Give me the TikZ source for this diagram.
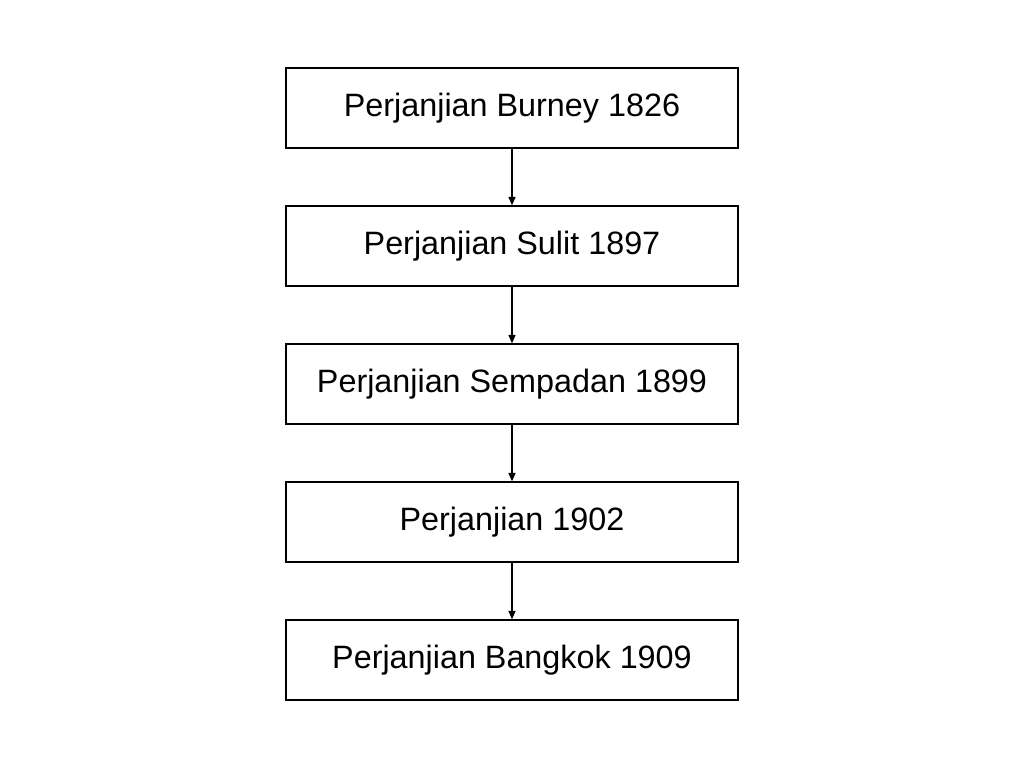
\documentclass[tikz,border=0pt]{standalone}
\usepackage{fontspec}
\setmainfont{Liberation Sans}
\usetikzlibrary{positioning,arrows.meta}

\begin{document}
\begin{tikzpicture}[
    node distance=1.418cm,
    treaty/.style={rectangle, draw, line width=0.9pt, minimum width=11.3cm, minimum height=2cm, text centered, font=\fontsize{23}{27}\selectfont},
    arrow/.style={line width=0.9pt, -{Triangle[length=6pt,width=5pt]}}
]
    \useasboundingbox (0,0) rectangle (25.6,19.2);

    % Nodes
    \node[treaty] (burney) at (12.8,16.5) {Perjanjian Burney 1826};
    \node[treaty, below=of burney] (sulit) {Perjanjian Sulit 1897};
    \node[treaty, below=of sulit] (sempadan) {Perjanjian Sempadan 1899};
    \node[treaty, below=of sempadan] (p1902) {Perjanjian 1902};
    \node[treaty, below=of p1902] (bangkok) {Perjanjian Bangkok 1909};

    % Connections
    \draw[arrow] (burney) -- (sulit);
    \draw[arrow] (sulit) -- (sempadan);
    \draw[arrow] (sempadan) -- (p1902);
    \draw[arrow] (p1902) -- (bangkok);
\end{tikzpicture}
\end{document}
